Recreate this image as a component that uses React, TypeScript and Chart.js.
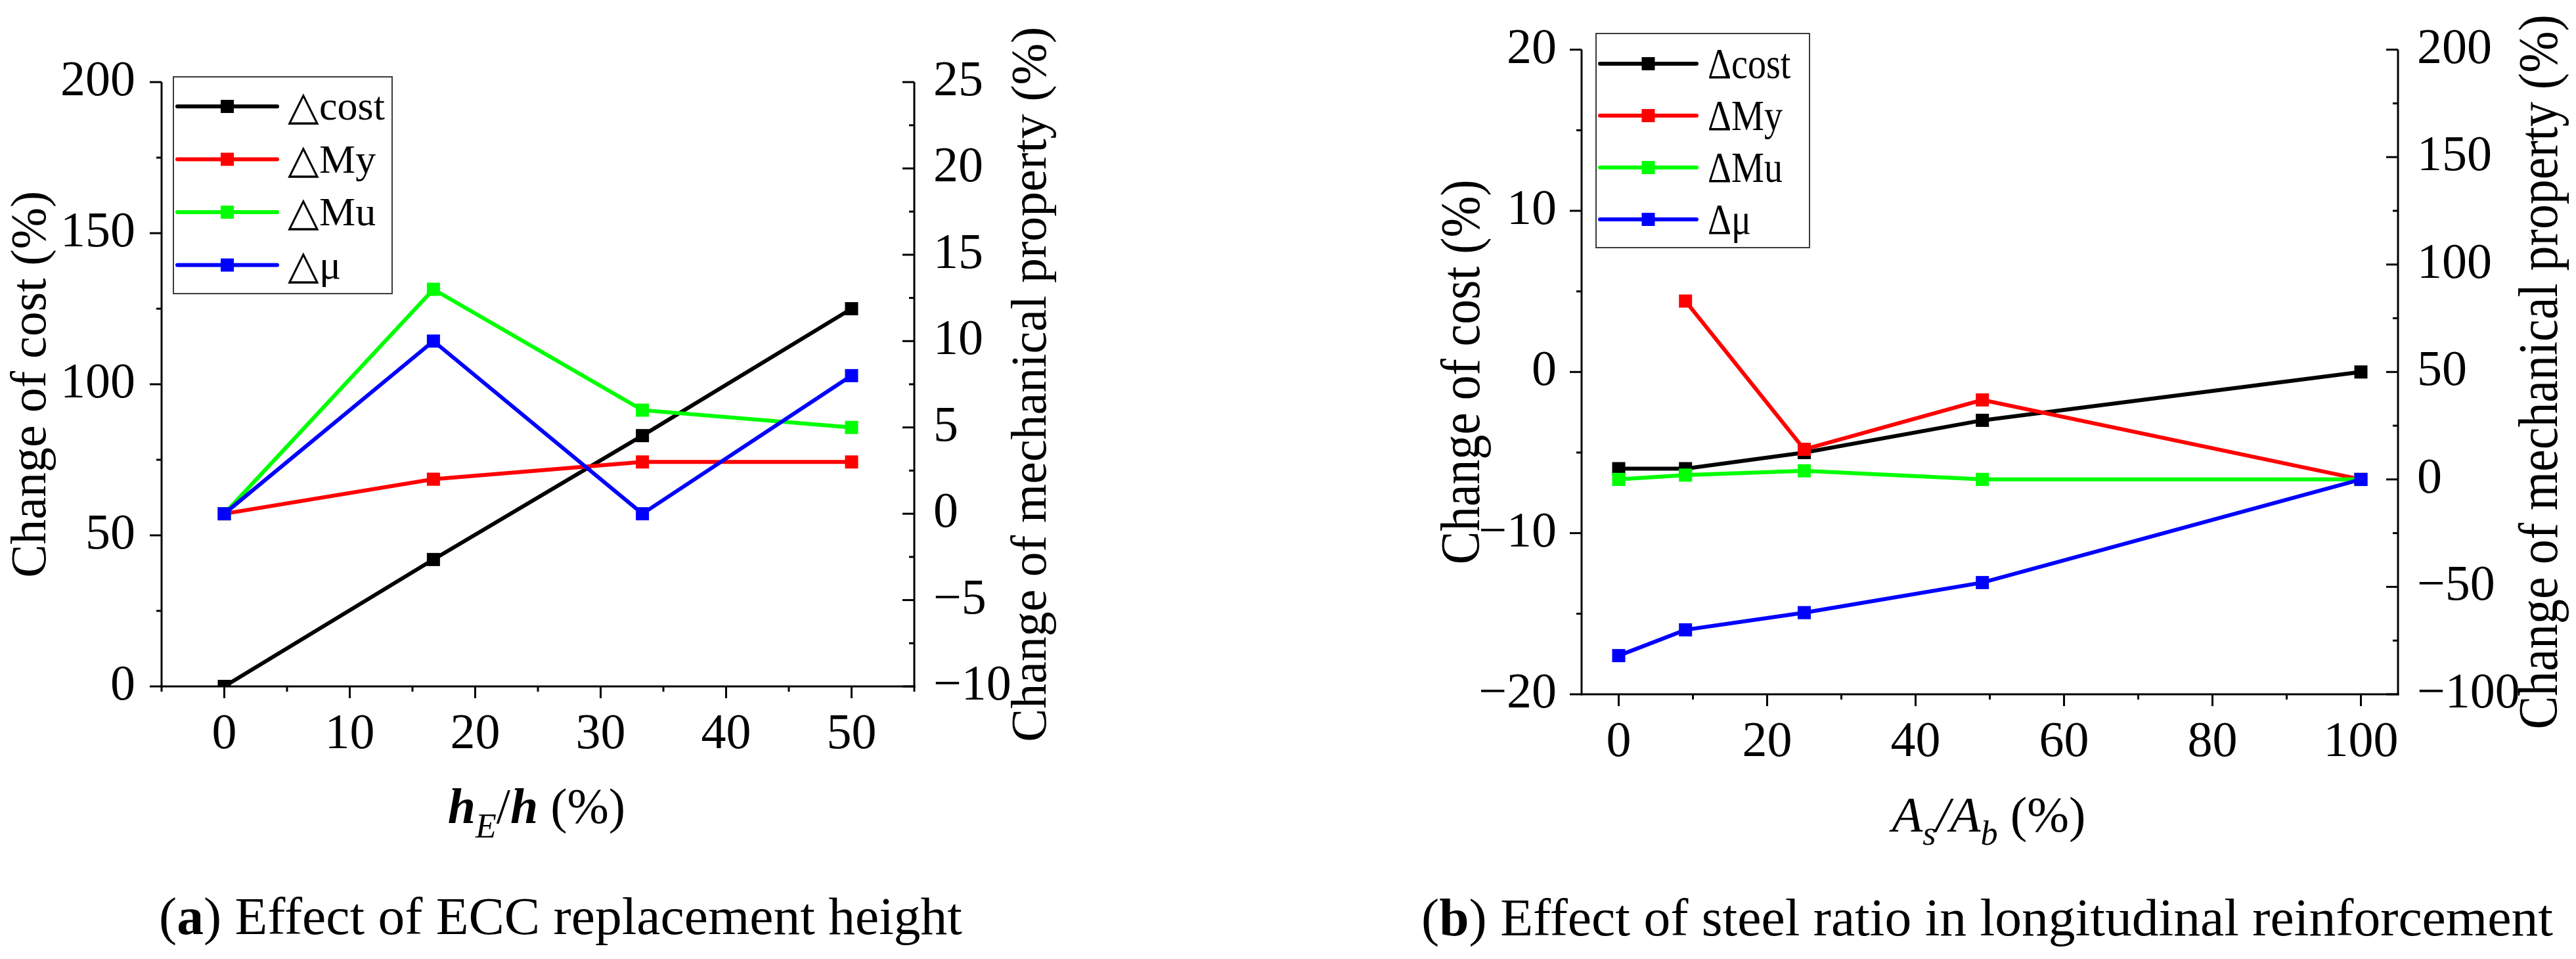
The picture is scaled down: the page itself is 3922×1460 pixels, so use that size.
import React, { useEffect, useRef } from 'react';
import { Chart, registerables } from 'chart.js';

Chart.register(...registerables);

const FONT = "'Liberation Serif', 'Times New Roman', serif";

// (a) Effect of ECC replacement height
const heightRatioA = [0, 16.67, 33.33, 50];
const costA = [0, 42, 83, 125];
const myA = [0, 2, 3, 3];
const muA = [0, 13, 6, 5];
const ductA = [0, 10, 0, 8];
const xTicksA = [0, 10, 20, 30, 40, 50];
const costTicksA = [0, 50, 100, 150, 200];
const propTicksA = [-10, -5, 0, 5, 10, 15, 20, 25];
const namesA = ['\u25B3cost', '\u25B3My', '\u25B3Mu', '\u25B3\u03BC'];

// (b) Effect of steel ratio in longitudinal reinforcement
const steelRatioB = [0, 9, 25, 49, 100];
const costB = [-6, -6, -5, -3, 0];
const myB = [null, 83, 14, 37, 0];
const muB = [0, 2, 4, 0, 0];
const ductB = [-82, -70, -62, -48, 0];
const xTicksB = [0, 20, 40, 60, 80, 100];
const costTicksB = [-20, -10, 0, 10, 20];
const propTicksB = [-100, -50, 0, 50, 100, 150, 200];
const namesB = ['\u0394cost', '\u0394My', '\u0394Mu', '\u0394\u03BC'];

const COLORS = ['#000000', '#ff0000', '#00ff00', '#0000ff'];

type Run = { t: string; f: string; dy?: number };

const reg = (s: number) => `${s}px ${FONT}`;
const ital = (s: number) => `italic ${s}px ${FONT}`;
const boldItal = (s: number) => `bold italic ${s}px ${FONT}`;
const bold = (s: number) => `bold ${s}px ${FONT}`;

function runsWidth(ctx: CanvasRenderingContext2D, runs: Run[]) {
  let w = 0;
  for (const r of runs) {
    ctx.font = r.f;
    w += ctx.measureText(r.t).width;
  }
  return w;
}

// draws a line of mixed-font text; target squeezes it horizontally to a given width
function drawRuns(ctx: CanvasRenderingContext2D, runs: Run[], x: number, y: number, align: 'left' | 'center', target?: number) {
  const w = runsWidth(ctx, runs);
  const k = target ? target / w : 1;
  ctx.save();
  ctx.translate(x, y);
  ctx.scale(k, 1);
  ctx.textAlign = 'left';
  ctx.textBaseline = 'alphabetic';
  ctx.fillStyle = '#000';
  let cx = align === 'center' ? -w / 2 : 0;
  for (const r of runs) {
    ctx.font = r.f;
    ctx.fillText(r.t, cx, r.dy || 0);
    cx += ctx.measureText(r.t).width;
  }
  ctx.restore();
}

function minorTicks(major: number[], min: number, max: number) {
  const step = (major[1] - major[0]) / 2;
  const out: number[] = [];
  for (let v = major[0] - step * Math.floor((major[0] - min) / step); v <= max + 1e-9; v += step) {
    if (!major.some((m) => Math.abs(m - v) < 1e-9)) out.push(v);
  }
  return out;
}

interface PanelSpec {
  xs: number[];
  series: (number | null)[][];
  names: string[];
  xRange: [number, number];
  yRange: [number, number];
  y1Range: [number, number];
  xTicks: number[];
  yTicks: number[];
  y1Ticks: number[];
  top: number;
  leftW: number;
  rightW: number;
  xH: number;
  yPad: number;
  clip: boolean;
  leftTitle: { x: number; size: number; target?: number };
  rightTitle: { x: number; size: number; target?: number };
  xTitle: { runs: Run[]; x: number; y: number; target?: number };
  caption: { runs: Run[]; x: number; y: number; target?: number };
  legend: { x: number; y: number; w: number; h: number; row0: number; rowGap: number; lineL: number; lineR: number; textX: number; size: number; textW?: number };
}

function makeDecor(spec: PanelSpec) {
  return {
    id: 'decor',
    afterDraw(chart: Chart) {
      const { ctx, chartArea: a } = chart;
      const sx = chart.scales.x;
      const sy = chart.scales.y;
      const sy1 = chart.scales.y1;
      const seg = (x1: number, y1: number, x2: number, y2: number) => {
        ctx.beginPath();
        ctx.moveTo(x1, y1);
        ctx.lineTo(x2, y2);
        ctx.stroke();
      };
      ctx.save();
      ctx.strokeStyle = '#000';
      ctx.lineWidth = 3;
      ctx.lineCap = 'butt';
      // axis lines
      seg(a.left, a.top, a.left, a.bottom + 1.5);
      seg(a.right, a.top, a.right, a.bottom + 1.5);
      seg(a.left - 1.5, a.bottom, a.right + 1.5, a.bottom);
      // x ticks (outward)
      for (const v of spec.xTicks) {
        const p = sx.getPixelForValue(v);
        seg(p, a.bottom, p, a.bottom + 18);
      }
      for (const v of minorTicks(spec.xTicks, spec.xRange[0], spec.xRange[1])) {
        const p = sx.getPixelForValue(v);
        seg(p, a.bottom, p, a.bottom + 8);
      }
      // left y ticks (outward)
      for (const v of spec.yTicks) {
        const p = sy.getPixelForValue(v);
        seg(a.left - 18, p, a.left, p);
      }
      for (const v of minorTicks(spec.yTicks, spec.yRange[0], spec.yRange[1])) {
        const p = sy.getPixelForValue(v);
        seg(a.left - 8, p, a.left, p);
      }
      // right y ticks (inward)
      for (const v of spec.y1Ticks) {
        const p = sy1.getPixelForValue(v);
        seg(a.right - 18, p, a.right, p);
      }
      for (const v of minorTicks(spec.y1Ticks, spec.y1Range[0], spec.y1Range[1])) {
        const p = sy1.getPixelForValue(v);
        seg(a.right - 8, p, a.right, p);
      }

      // axis titles
      const midY = (a.top + a.bottom) / 2;
      const rot = (runs: Run[], bx: number, target?: number) => {
        ctx.save();
        ctx.translate(bx, midY);
        ctx.rotate(-Math.PI / 2);
        drawRuns(ctx, runs, 0, 0, 'center', target);
        ctx.restore();
      };
      rot([{ t: 'Change of cost (%)', f: reg(spec.leftTitle.size) }], spec.leftTitle.x, spec.leftTitle.target);
      rot([{ t: 'Change of mechanical property (%)', f: reg(spec.rightTitle.size) }], spec.rightTitle.x, spec.rightTitle.target);
      drawRuns(ctx, spec.xTitle.runs, spec.xTitle.x, spec.xTitle.y, 'center', spec.xTitle.target);
      drawRuns(ctx, spec.caption.runs, spec.caption.x, spec.caption.y, 'left', spec.caption.target);

      // legend
      const L = spec.legend;
      ctx.lineWidth = 2;
      ctx.strokeStyle = '#3a3a3a';
      ctx.strokeRect(L.x, L.y, L.w, L.h);
      const mid = (L.lineL + L.lineR) / 2;
      spec.names.forEach((name, i) => {
        const ry = L.row0 + i * L.rowGap;
        ctx.strokeStyle = COLORS[i];
        ctx.lineWidth = 6;
        ctx.lineCap = 'round';
        seg(L.lineL, ry, L.lineR, ry);
        ctx.fillStyle = COLORS[i];
        ctx.fillRect(mid - 10, ry - 10, 20, 20);
        const runs = [{ t: name, f: reg(L.size) }];
        let target: number | undefined;
        if (L.textW) target = runsWidth(ctx, runs) * L.textW;
        drawRuns(ctx, runs, L.textX, ry + L.size * 0.33, 'left', target);
      });
      ctx.restore();
    },
  };
}

function buildConfig(spec: PanelSpec): any {
  const order = [3, 2, 1, 0];
  const axisIds = ['y', 'y1', 'y1', 'y1'];
  const fmt = (v: number | string) => String(v).replace('-', '\u2212');
  const tickFont = { family: FONT, size: 76 };
  return {
    type: 'line',
    data: {
      datasets: spec.series.map((ys, i) => ({
        label: spec.names[i],
        data: spec.xs.map((x, j) => ({ x, y: ys[j] })),
        yAxisID: axisIds[i],
        borderColor: COLORS[i],
        backgroundColor: COLORS[i],
        borderWidth: 6,
        pointStyle: 'rect',
        pointRadius: 14.14,
        pointHoverRadius: 14.14,
        pointBorderWidth: 0,
        tension: 0,
        spanGaps: false,
        order: order[i],
        clip: spec.clip ? 0 : false,
      })),
    },
    options: {
      animation: false,
      responsive: true,
      maintainAspectRatio: false,
      devicePixelRatio: 1,
      events: [],
      layout: { padding: { top: spec.top, left: 0, right: 0, bottom: 0 } },
      plugins: { legend: { display: false }, tooltip: { enabled: false } },
      scales: {
        x: {
          type: 'linear',
          min: spec.xRange[0],
          max: spec.xRange[1],
          grid: { display: false },
          border: { display: false },
          afterBuildTicks: (sc: any) => {
            sc.ticks = spec.xTicks.map((value) => ({ value }));
          },
          afterFit: (sc: any) => {
            sc.height = spec.xH;
          },
          ticks: { font: tickFont, color: '#000', padding: 20, maxRotation: 0, autoSkip: false, callback: fmt },
        },
        y: {
          type: 'linear',
          position: 'left',
          min: spec.yRange[0],
          max: spec.yRange[1],
          grid: { display: false },
          border: { display: false },
          afterBuildTicks: (sc: any) => {
            sc.ticks = spec.yTicks.map((value) => ({ value }));
          },
          afterFit: (sc: any) => {
            sc.width = spec.leftW;
          },
          ticks: { font: tickFont, color: '#000', padding: spec.yPad, autoSkip: false, callback: fmt },
        },
        y1: {
          type: 'linear',
          position: 'right',
          min: spec.y1Range[0],
          max: spec.y1Range[1],
          grid: { display: false },
          border: { display: false },
          afterBuildTicks: (sc: any) => {
            sc.ticks = spec.y1Ticks.map((value) => ({ value }));
          },
          afterFit: (sc: any) => {
            sc.width = spec.rightW;
          },
          ticks: { font: tickFont, color: '#000', padding: 21, autoSkip: false, callback: fmt },
        },
      },
    },
    plugins: [makeDecor(spec)],
  };
}

const specA: PanelSpec = {
  xs: heightRatioA,
  series: [costA, myA, muA, ductA],
  names: namesA,
  xRange: [-5, 55],
  yRange: [0, 200],
  y1Range: [-10, 25],
  xTicks: xTicksA,
  yTicks: costTicksA,
  y1Ticks: propTicksA,
  top: 125,
  leftW: 246,
  rightW: 1960 - 1392,
  xH: 1460 - 1045,
  yPad: 32,
  clip: true,
  leftTitle: { x: 69, size: 76 },
  rightTitle: { x: 1592, size: 76 },
  xTitle: {
    runs: [
      { t: 'h', f: boldItal(76) },
      { t: 'E', f: ital(52), dy: 22 },
      { t: '/', f: reg(76) },
      { t: 'h', f: boldItal(76) },
      { t: ' (%)', f: reg(76) },
    ],
    x: 817,
    y: 1253,
  },
  caption: {
    runs: [
      { t: '(', f: reg(80) },
      { t: 'a', f: bold(80) },
      { t: ') Effect of ECC replacement height', f: reg(80) },
    ],
    x: 242,
    y: 1422,
    target: 1223,
  },
  legend: { x: 264, y: 117, w: 333, h: 330, row0: 162, rowGap: 80.5, lineL: 270, lineR: 422, textX: 438, size: 62 },
};

const specB: PanelSpec = {
  xs: steelRatioB,
  series: [costB, myB, muB, ductB],
  names: namesB,
  xRange: [-5, 105],
  yRange: [-20, 20],
  y1Range: [-100, 200],
  xTicks: xTicksB,
  yTicks: costTicksB,
  y1Ticks: propTicksB,
  top: 60,
  leftW: 2408 - 1960,
  rightW: 3922 - 3651,
  xH: 1460 - 1057,
  yPad: 30,
  clip: false,
  leftTitle: { x: 292, size: 84, target: 586 },
  rightTitle: { x: 1933, size: 84, target: 1088 },
  xTitle: {
    runs: [
      { t: 'A', f: ital(76) },
      { t: 's', f: ital(52), dy: 20 },
      { t: '/A', f: ital(76) },
      { t: 'b', f: ital(52), dy: 20 },
      { t: ' (%)', f: reg(76) },
    ],
    x: 1068,
    y: 1266,
    target: 295,
  },
  caption: {
    runs: [
      { t: '(', f: reg(80) },
      { t: 'b', f: bold(80) },
      { t: ') Effect of steel ratio in longitudinal reinforcement', f: reg(80) },
    ],
    x: 204,
    y: 1424,
    target: 1723,
  },
  legend: { x: 470, y: 51, w: 325, h: 326, row0: 97, rowGap: 79, lineL: 476, lineR: 623, textX: 640, size: 66, textW: 0.85 },
};

function Panel({ spec, left, width }: { spec: PanelSpec; left: number; width: number }) {
  const canvasRef = useRef<HTMLCanvasElement>(null);

  useEffect(() => {
    if (!canvasRef.current) return;
    const chart = new Chart(canvasRef.current, buildConfig(spec));
    return () => {
      chart.destroy();
    };
  }, [spec]);

  return (
    <div style={{ position: 'absolute', left, top: 0, width, height: 1460 }}>
      <canvas ref={canvasRef}></canvas>
    </div>
  );
}

export default function App() {
  return (
    <div style={{ position: 'fixed', left: 0, top: 0, width: 3922, height: 1460, background: '#fff', overflow: 'hidden' }}>
      <Panel spec={specA} left={0} width={1960} />
      <Panel spec={specB} left={1960} width={1962} />
    </div>
  );
}
